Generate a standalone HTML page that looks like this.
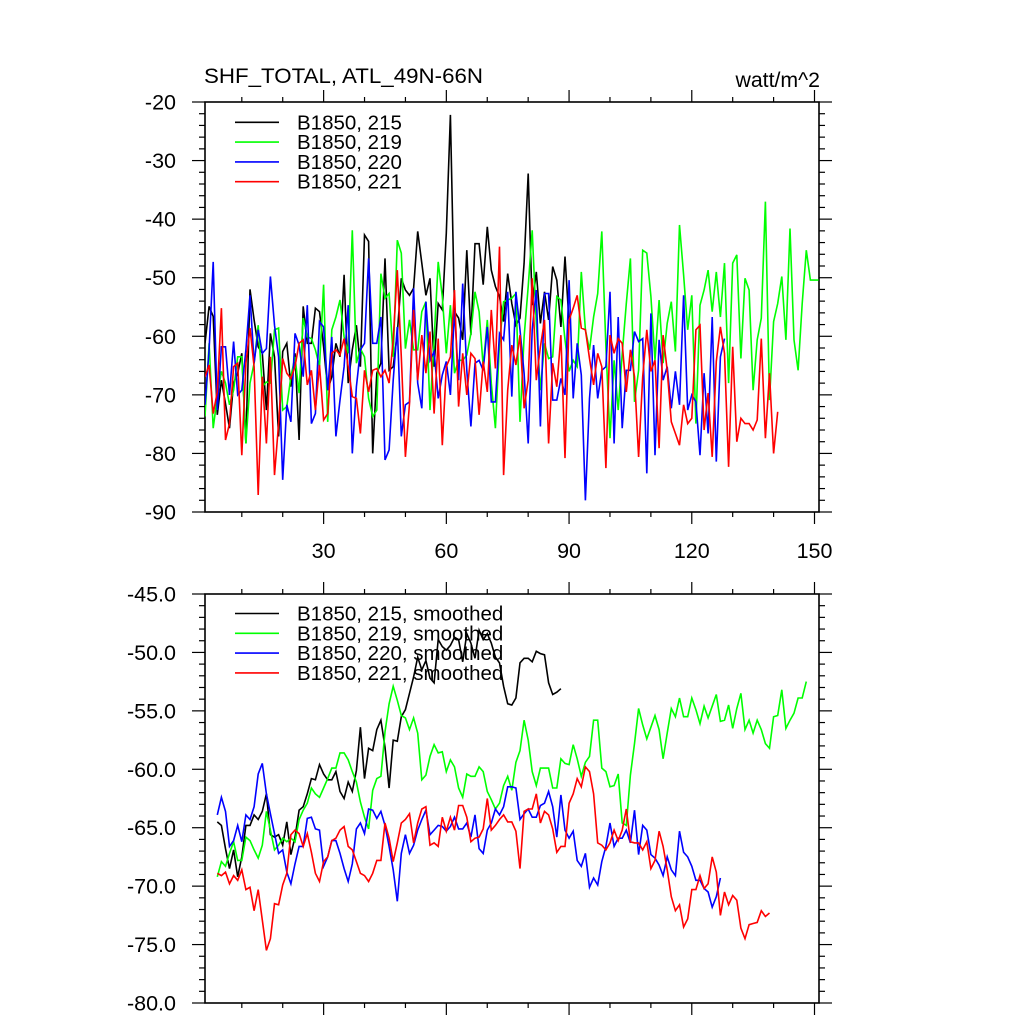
<!DOCTYPE html>
<html><head><meta charset="utf-8">
<style>
html,body{margin:0;padding:0;background:#fff;}
svg{display:block;font-family:"Liberation Sans",Arial,sans-serif;}
</style></head>
<body>
<svg id="chart" width="1024" height="1024" viewBox="0 0 1024 1024" xmlns="http://www.w3.org/2000/svg">
<rect width="1024" height="1024" fill="#fff"/>
<text x="204" y="83" font-size="21.5" textLength="279" lengthAdjust="spacingAndGlyphs">SHF_TOTAL, ATL_49N-66N</text>
<text x="820" y="87" font-size="21.3" text-anchor="end">watt/m^2</text>
<g id="top"></g>
<g id="bottom"></g>
</svg>
<script>
// ---- Raw annual series (top panel) ----
const topNames = ["B1850, 215","B1850, 219","B1850, 220","B1850, 221"];
const topColors = ["#000000","#00ff00","#0000ff","#ff0000"];
const topStarts = [1,1,1,1];
const raw215 = [-61.2,-54.9,-56.6,-73.4,-67.5,-71.5,-75.7,-68.0,-66.3,-62.9,-78.3,-52.0,-57.2,-61.8,-62.9,-72.6,-59.5,-63.5,-77.1,-62.6,-61.2,-68.6,-62.9,-77.7,-54.9,-61.2,-61.2,-55.2,-55.8,-61.8,-69.2,-66.9,-61.2,-63.5,-49.5,-68.0,-62.3,-58.1,-65.2,-42.7,-43.8,-80.0,-66.3,-64.6,-46.7,-65.8,-65.2,-59.5,-50.1,-52.1,
-53.0,-51.8,-42.1,-47.5,-53.0,-50.1,-65.2,-54.4,-55.5,-42.4,-22.2,-55.8,-56.9,-60.6,-45.3,-59.8,-44.2,-44.2,-51.2,-41.3,-48.7,-51.5,-53.2,-57.5,-49.3,-54.4,-58.1,-56.9,-47.5,-32.2,-54.7,-49.0,-57.8,-52.4,-57.2,-48.1,-50.4,-58.4,-46.4,-57.8];
const raw219 = [-73.7,-61.2,-75.7,-70.3,-66.0,-68.0,-71.7,-69.2,-63.5,-63.5,-78.3,-68.0,-64.6,-58.1,-68.6,-67.8,-68.0,-58.9,-58.6,-72.6,-72.0,-66.9,-63.5,-69.7,-56.9,-60.1,-60.4,-62.3,-65.2,-51.2,-74.6,-58.9,-56.7,-53.8,-60.1,-62.9,-41.9,-64.6,-62.1,-63.5,-70.6,-73.7,-72.6,-49.3,-53.5,-52.7,-63.5,-43.6,-45.8,-62.1,
-57.2,-62.3,-62.3,-55.8,-54.1,-72.6,-60.6,-47.3,-53.2,-62.9,-54.7,-66.3,-64.1,-64.1,-63.2,-59.5,-52.4,-55.8,-65.2,-57.2,-68.0,-75.7,-61.2,-54.1,-53.8,-53.5,-52.7,-74.6,-60.1,-51.5,-41.9,-57.8,-69.2,-61.2,-63.8,-63.5,-53.2,-53.8,-60.6,-66.0,-64.1,-65.2,-49.0,-58.9,-62.3,-56.7,-52.7,-42.1,-61.8,-77.4,-64.1,-72.6,
-63.0,-54.4,-46.7,-71.2,-65.8,-45.3,-45.8,-53.2,-64.1,-53.8,-64.6,-57.8,-54.1,-62.6,-41.0,-49.5,-58.9,-53.0,-74.9,-54.7,-52.1,-48.7,-55.8,-49.0,-56.7,-47.5,-68.0,-47.5,-46.1,-63.8,-50.1,-52.1,-69.2,-60.6,-56.9,-37.0,-70.9,-57.5,-54.4,-49.8,-60.6,-41.6,-60.6,-65.8,-54.4,-45.3,-50.4,-50.4,-50.4];
const raw220 = [-71.7,-62.3,-47.3,-72.6,-61.8,-61.8,-70.0,-60.9,-70.0,-69.2,-62.3,-53.0,-64.6,-58.9,-62.9,-62.1,-49.8,-58.1,-63.5,-84.5,-71.7,-74.6,-59.5,-61.5,-66.9,-54.7,-74.9,-73.2,-57.5,-58.4,-69.2,-60.1,-77.1,-70.9,-65.2,-54.7,-80.0,-68.6,-62.3,-61.2,-46.7,-61.2,-61.2,-56.7,-81.1,-79.4,-67.5,-58.4,-77.1,-71.7,
-71.2,-51.8,-68.0,-72.3,-54.1,-64.1,-62.6,-70.6,-66.6,-64.3,-70.0,-55.5,-67.5,-51.0,-65.8,-75.4,-64.6,-64.1,-65.8,-58.4,-71.2,-71.2,-59.5,-60.6,-52.4,-70.3,-52.4,-58.9,-66.3,-78.3,-58.9,-52.1,-75.4,-52.7,-52.7,-70.9,-70.9,-67.2,-70.0,-50.4,-70.6,-61.2,-66.6,-88.0,-70.6,-61.5,-70.6,-65.8,-65.2,-52.4,-78.3,-56.7,
-75.7,-65.8,-65.8,-59.2,-60.9,-60.4,-83.4,-56.1,-80.3,-60.6,-67.5,-65.2,-72.3,-66.0,-71.7,-53.0,-72.6,-70.0,-71.2,-80.3,-66.3,-76.6,-56.7,-81.4,-63.5,-60.4];
const raw221 = [-66.9,-64.9,-73.2,-69.5,-55.2,-77.7,-74.9,-65.2,-64.6,-80.3,-64.6,-58.6,-65.2,-87.1,-66.9,-78.3,-63.5,-83.7,-74.9,-63.8,-66.3,-67.2,-65.2,-61.2,-60.6,-68.3,-65.8,-72.6,-64.9,-74.3,-73.2,-62.9,-62.3,-63.2,-60.4,-65.2,-70.3,-70.6,-76.6,-65.8,-69.5,-65.8,-65.5,-66.9,-65.8,-68.0,-60.6,-48.7,-63.5,-80.6,
-71.5,-55.5,-67.5,-59.8,-66.3,-59.2,-73.2,-60.4,-78.6,-65.2,-63.5,-52.1,-72.0,-62.9,-70.0,-62.9,-63.8,-73.4,-64.3,-69.5,-55.5,-65.5,-44.7,-83.7,-69.2,-61.5,-64.9,-59.8,-72.3,-67.5,-50.1,-67.5,-61.8,-57.2,-78.3,-64.6,-68.6,-59.8,-80.8,-57.2,-55.2,-53.0,-58.6,-58.9,-63.8,-68.3,-62.9,-65.2,-82.5,-59.8,-62.9,-60.4,
-61.2,-69.5,-62.3,-66.9,-80.6,-66.9,-58.9,-66.0,-64.1,-79.1,-59.8,-65.8,-74.6,-76.6,-78.6,-71.7,-74.9,-74.0,-58.9,-58.1,-76.0,-69.7,-80.6,-64.3,-58.4,-62.9,-82.3,-61.8,-78.0,-74.0,-74.9,-74.9,-76.0,-74.3,-60.4,-77.4,-66.3,-80.0,-72.9];
// ---- Smoothed series (bottom panel) ----
const botNames = ["B1850, 215, smoothed","B1850, 219, smoothed","B1850, 220, smoothed","B1850, 221, smoothed"];
const botStarts = [4,4,4,4];
const sm215 = [-64.5,-64.8,-66.8,-68.5,-66.9,-69.2,-67.5,-64.8,-64.8,-63.9,-64.3,-63.6,-62.1,-65.6,-65.8,-65.6,-66.5,-64.5,-67.3,-65.8,-63.5,-63.2,-62.1,-60.8,-60.9,-59.6,-60.4,-60.9,-60.9,-60.2,-61.9,-62.5,-61.1,-61.9,-60.1,-56.4,-60.8,-58.2,-58.4,-56.6,-55.8,-58.1,-61.6,-57.5,-57.6,-55.5,-54.9,-53.5,-52.1,-50.4,-51.5,-50.7,-52.2,-52.6,-48.9,-49.5,-49.8,-49.4,-48.7,-48.9,-50.8,-48.4,-49.2,-50.5,-48.1,-48.9,-48.4,-49.2,-50.4,-50.9,-52.9,-54.4,
-54.5,-53.9,-50.9,-50.5,-50.5,-50.8,-49.9,-50.1,-50.2,-52.6,-53.6,-53.4,-53.1];
const sm219 = [-69.2,-67.9,-68.3,-67.2,-66.2,-67.8,-67.8,-65.8,-66.1,-66.9,-67.6,-66.5,-63.6,-65.2,-66.9,-66.5,-65.9,-66.2,-65.9,-66.2,-64.3,-63.5,-62.9,-61.6,-62.1,-62.4,-61.6,-60.8,-59.9,-59.9,-58.6,-58.6,-59.2,-60.2,-61.1,-62.8,-64.1,-65.1,-61.8,-60.8,-60.6,-56.8,-54.4,-52.9,-54.1,-55.4,-55.6,-56.6,-55.6,-56.9,-60.9,-60.5,-58.9,-57.9,-58.6,-58.5,-60.2,-59.2,-59.8,-61.6,-62.4,-60.4,-60.6,-60.6,-59.8,-60.2,-61.9,-62.6,-63.4,-62.9,-61.4,-60.6,
-61.8,-59.4,-58.4,-55.8,-57.5,-60.2,-61.4,-59.9,-59.9,-59.9,-61.6,-61.6,-59.1,-59.5,-59.6,-57.9,-59.1,-60.6,-59.4,-58.9,-55.8,-55.8,-59.9,-60.2,-61.5,-61.4,-60.4,-64.6,-64.8,-60.5,-57.8,-54.8,-56.2,-57.4,-56.4,-55.4,-56.6,-59.1,-56.9,-54.8,-55.5,-53.9,-55.5,-55.5,-53.9,-54.9,-56.1,-54.6,-55.6,-54.6,-53.6,-55.9,-55.8,-54.5,-56.5,-54.8,-53.5,-56.6,-55.8,-56.9,-55.8,-56.6,-57.8,-58.2,-55.5,-55.4,-53.2,-56.5,-55.8,-55.2,-53.9,-53.9,-52.5];
const sm220 = [-63.9,-62.4,-63.6,-66.6,-66.1,-64.8,-66.2,-63.9,-64.3,-63.2,-60.4,-59.5,-62.1,-63.8,-65.5,-67.2,-66.9,-68.8,-69.8,-68.1,-66.6,-66.6,-64.2,-64.1,-65.1,-65.2,-68.3,-67.5,-66.1,-66.1,-67.2,-68.5,-69.6,-68.1,-65.1,-64.6,-65.5,-63.4,-63.5,-64.2,-63.6,-64.8,-66.6,-68.6,-71.3,-67.2,-65.6,-67.2,-66.5,-65.2,-64.3,-63.5,-65.6,-65.2,-64.8,-64.9,-65.3,-64.9,-64.1,-65.1,-65.1,-64.6,-65.8,-63.9,-66.8,-67.2,-65.2,-64.6,-63.4,-63.9,-63.2,-61.5,
-61.5,-61.6,-64.3,-63.8,-63.4,-64.1,-64.1,-63.1,-62.9,-61.9,-63.2,-65.8,-62.2,-65.2,-65.9,-65.3,-67.8,-68.3,-67.2,-70.1,-69.3,-69.9,-67.9,-66.6,-64.6,-66.6,-65.9,-65.9,-65.2,-66.3,-63.5,-67.3,-64.8,-65.2,-67.3,-67.6,-68.2,-69.1,-67.5,-68.6,-69.1,-65.3,-67.1,-67.5,-68.3,-69.5,-69.5,-70.2,-70.5,-71.8,-70.9,-69.3];
const sm221 = [-68.9,-69.1,-68.8,-69.8,-69.1,-69.5,-68.6,-70.3,-70.1,-72.1,-70.3,-72.9,-75.5,-74.5,-71.5,-71.6,-69.9,-68.9,-65.6,-65.2,-65.5,-66.6,-65.5,-67.1,-68.9,-69.6,-67.9,-67.5,-66.1,-65.9,-65.2,-64.9,-66.6,-66.9,-67.9,-68.9,-69.1,-69.6,-68.9,-67.8,-67.8,-64.6,-65.9,-67.9,-66.3,-64.6,-64.3,-63.8,-66.3,-64.6,-63.4,-63.2,-66.5,-66.3,-66.6,-64.1,-65.3,-64.1,-65.2,-63.1,-63.1,-64.1,-66.2,-65.9,-65.8,-65.1,-62.5,-65.2,-64.8,-64.3,-63.9,-64.5,
-64.5,-65.3,-68.5,-63.6,-63.4,-63.4,-62.1,-64.6,-63.6,-63.9,-65.1,-67.1,-66.6,-66.6,-62.9,-62.1,-60.8,-61.5,-59.8,-60.2,-62.1,-66.3,-66.5,-66.9,-66.3,-65.2,-66.1,-65.2,-63.4,-66.2,-66.3,-66.3,-66.9,-66.2,-68.5,-67.8,-65.3,-66.6,-68.6,-70.9,-72.1,-71.6,-73.5,-72.8,-70.3,-70.3,-69.1,-70.2,-69.8,-67.5,-68.8,-72.5,-70.5,-71.6,-70.8,-71.2,-73.6,-74.5,-73.3,-73.2,-73.1,-72.1,-72.6,-72.3];
const xTickVals = [30,60,90,120,150];
const topYTicks = [-20,-30,-40,-50,-60,-70,-80,-90];
const botYTicks = [-45.0,-50.0,-55.0,-60.0,-65.0,-70.0,-75.0,-80.0];

const NS="http://www.w3.org/2000/svg";
const svg=document.getElementById('chart');
const L=205,R=819;
const xMin=1.0,xMax=151.1;
function xs(v){return L+(v-xMin)/(xMax-xMin)*(R-L);}
function mk(tag,attrs,parent){const e=document.createElementNS(NS,tag);for(const k in attrs)e.setAttribute(k,attrs[k]);parent.appendChild(e);return e;}

function panel(gid,T,B,yMax,yMin,minorStep,showXLabels,yFmt,series,starts,names,legendY){
  const g=document.getElementById(gid);
  const ys=v=>T+(yMax-v)/(yMax-yMin)*(B-T);
  const cp=mk('clipPath',{id:'clip-'+gid},g);
  mk('rect',{x:L,y:T,width:R-L,height:B-T},cp);
  const fr=mk('rect',{x:L,y:T,width:R-L,height:B-T,fill:'none',stroke:'#000','stroke-width':1.6},g);
  
  
  function isMajor(v){return yFmt.some(t=>Math.abs(t-v)<1e-6);}
  for(let v=yMin; v<=yMax+1e-6; v+=minorStep){
    const vv=Math.round(v*100)/100;
    const len=isMajor(vv)?13:6;
    const y=ys(vv);
    mk('line',{x1:L-len,y1:y,x2:L,y2:y,stroke:'#000','stroke-width':1.2},g);
    mk('line',{x1:R,y1:y,x2:R+len,y2:y,stroke:'#000','stroke-width':1.2},g);
  }
  yFmt.forEach(t=>{
    const tx=mk('text',{x:176,y:ys(t)+7.5,'font-size':21.5,'text-anchor':'end'},g);
    tx.textContent=(gid==='bottom')?t.toFixed(1):String(t);
    
    
  });
  for(let v=10; v<=150; v+=10){
    const major=v%30===0;
    const len=major?12:5;
    const x=xs(v);
    mk('line',{x1:x,y1:T-len,x2:x,y2:T,stroke:'#000','stroke-width':1.2},g);
    mk('line',{x1:x,y1:B,x2:x,y2:B+len,stroke:'#000','stroke-width':1.2},g);
  }
  if(showXLabels){
    xTickVals.forEach(v=>{
      const tx=mk('text',{x:xs(v),y:B+46,'font-size':21.5,'text-anchor':'middle'},g);
      tx.textContent=String(v);
      
      
    });
  }
  const sg=mk('g',{'clip-path':'url(#clip-'+gid+')'},g);
  series.forEach((arr,i)=>{
    const pts=arr.map((v,j)=>xs(starts[i]+j).toFixed(1)+','+ys(v).toFixed(1)).join(' ');
    const pl=mk('polyline',{points:pts,fill:'none',stroke:topColors[i],'stroke-width':1.6,'stroke-linejoin':'miter'},sg);
    
    
  });
  names.forEach((n,i)=>{
    const y=legendY+i*19.8;
    const ln=mk('line',{x1:235,y1:y,x2:279,y2:y,stroke:topColors[i],'stroke-width':1.6},g);
    
    
    const tx=mk('text',{x:297,y:y+7,'font-size':20.5},g);
    tx.textContent=n;
    
    
  });
}
panel('top',102,512,-20,-90,2,true,topYTicks,[raw215,raw219,raw220,raw221],topStarts,topNames,122.3);
panel('bottom',594,1003,-45,-80,1,false,botYTicks,[sm215,sm219,sm220,sm221],botStarts,botNames,613.5);
</script>
</body></html>
